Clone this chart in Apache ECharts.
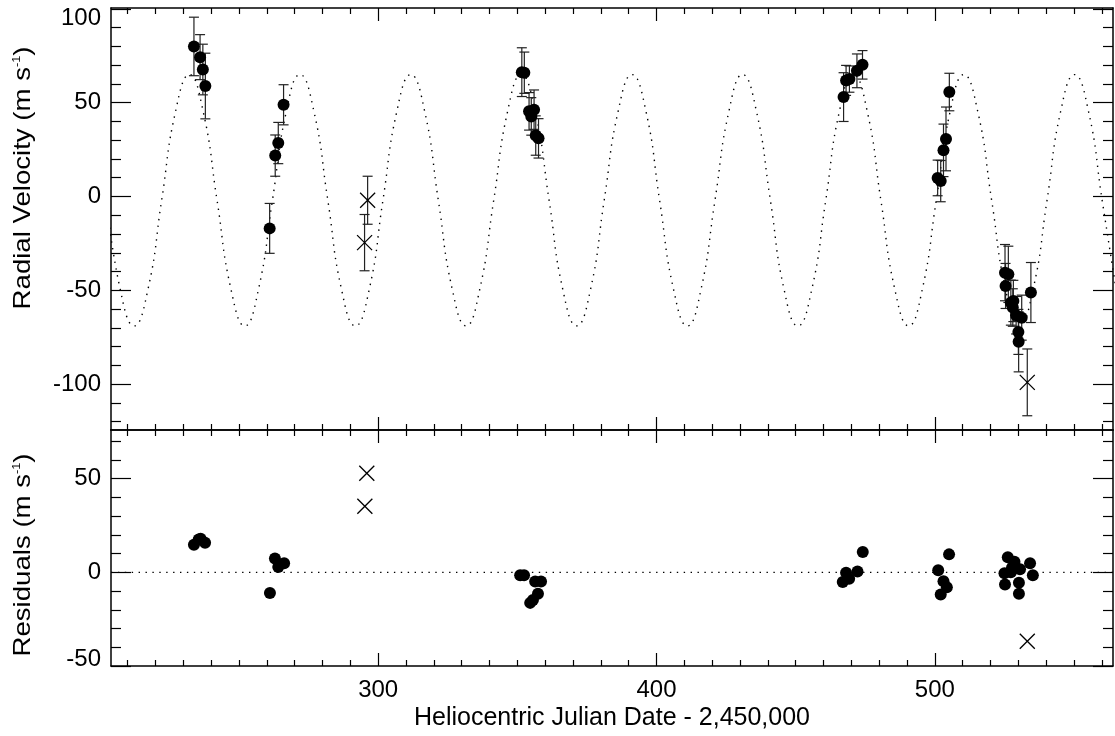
<!DOCTYPE html>
<html>
<head>
<meta charset="utf-8">
<script src="https://cdn.jsdelivr.net/npm/echarts@6/dist/echarts.min.js"></script>
<style>
html,body{margin:0;padding:0;background:#fff;}
#chart{width:1115px;height:736px;}
</style>
</head>
<body>
<div id="chart"></div>
<script>
// ---------- data ----------
// Radial velocities used in the fit (filled circles): day, velocity (m/s), 1-sigma error
const rvDays = [233.8, 236.0, 237.0, 237.9, 261.0, 263.0, 264.1, 266.0,
  351.6, 352.5, 354.2, 355.0, 356.0, 356.6, 357.6,
  467.2, 468.1, 469.3, 472.0, 474.0,
  501.0, 502.1, 503.1, 504.0, 505.2,
  525.2, 526.4, 525.4, 527.3, 528.2, 528.0, 529.2, 531.2, 530.0, 530.1, 534.5];
const rvVals = [80.0, 74.3, 67.7, 58.9, -17.0, 21.8, 28.5, 48.9,
  66.3, 66.0, 45.4, 42.7, 46.3, 32.5, 31.0,
  53.0, 61.9, 62.6, 67.0, 70.2,
  9.9, 8.2, 24.6, 30.7, 55.7,
  -40.6, -41.5, -47.7, -56.6, -55.7, -59.2, -63.3, -64.6, -72.2, -77.5, -51.2];
const rvErrs = [15.6, 12.0, 13.5, 17.5, 13.3, 11.0, 11.0, 10.7,
  13.0, 11.0, 10.0, 10.0, 10.5, 10.5, 10.5,
  13.0, 8.0, 7.0, 9.0, 7.6,
  9.5, 11.0, 14.0, 17.0, 10.0,
  15.0, 15.0, 12.0, 12.0, 11.0, 10.0, 10.0, 12.0, 12.0, 16.0, 16.0];

// Excluded points (crosses)
const exDays = [295.1, 296.2, 533.2];
const exVals = [-24.6, -2.0, -99.1];
const exErrs = [15.0, 12.8, 17.8];

// Residuals (filled circles) and residuals of excluded points (crosses)
const resDays = [233.8, 235.5, 236.2, 237.8, 261.1, 262.9, 264.1, 266.2,
  351.0, 352.4, 354.6, 355.6, 356.4, 357.4, 358.5,
  466.9, 468.1, 469.2, 472.2, 474.1,
  501.2, 502.1, 503.1, 504.3, 505.1,
  525.0, 525.2, 526.2, 527.3, 527.7, 528.6, 528.8, 530.2, 530.2, 530.6, 534.2, 535.2];
const resVals = [14.7, 17.5, 17.9, 15.8, -11.0, 7.4, 2.9, 4.9,
  -1.6, -1.6, -16.3, -14.7, -4.9, -11.4, -4.9,
  -5.1, -0.2, -3.4, 0.4, 10.9,
  1.1, -11.8, -4.7, -8.0, 9.6,
  -0.5, -6.5, 8.0, 0.0, 2.5, 5.6, 3.0, -5.6, -11.4, 1.6, 4.9, -1.6];
const exResDays = [295.2, 295.9, 533.2];
const exResVals = [35.3, 52.9, -36.8];

// Orbit model curve (dotted)
const modelDays = [202.4, 207.3, 212.3, 217.3, 222.2, 227.2, 232.2, 237.1, 242.1, 247.1,
  252.1, 257.0, 262.0, 267.0, 271.9, 276.9, 281.9, 286.8, 291.8, 296.8,
  301.7, 306.7, 311.7, 316.7, 321.6, 326.6, 331.6, 336.5, 341.5, 346.5,
  351.4, 356.4, 361.4, 366.3, 371.3, 376.3, 381.2, 386.2, 391.2, 396.2,
  401.1, 406.1, 411.1, 416.0, 421.0, 426.0, 430.9, 435.9, 440.9, 445.8,
  450.8, 455.8, 460.8, 465.7, 470.7, 475.7, 480.6, 485.6, 490.6, 495.5,
  500.5, 505.5, 510.4, 515.4, 520.4, 525.4, 530.3, 535.3, 540.3, 545.2,
  550.2, 555.2, 560.1, 565.1];
const modelVel = [-2, -49.4, -69, -49.4, -2, 45.4, 65, 45.4, -2, -49.4,
  -69, -49.4, -2, 45.4, 65, 45.4, -2, -49.4, -69, -49.4,
  -2, 45.4, 65, 45.4, -2, -49.4, -69, -49.4, -2, 45.4,
  65, 45.4, -2, -49.4, -69, -49.4, -2, 45.4, 65, 45.4,
  -2, -49.4, -69, -49.4, -2, 45.4, 65, 45.4, -2, -49.4,
  -69, -49.4, -2, 45.4, 65, 45.4, -2, -49.4, -69, -49.4,
  -2, 45.4, 65, 45.4, -2, -49.4, -69, -49.4, -2, 45.4,
  65, 45.4, -2, -49.4];

// Axis ranges and ticks
const xMin = 204, xMax = 564;
const xMajor = [300, 400, 500];
const xMinor = [210, 220, 230, 240, 250, 260, 270, 280, 290, 310, 320, 330, 340, 350, 360, 370, 380, 390,
  410, 420, 430, 440, 450, 460, 470, 480, 490, 510, 520, 530, 540, 550, 560];
const rvMin = -124.5, rvMax = 100.5;
const rvMajor = [-100, -50, 0, 50, 100];
const rvMinor = [-120, -110, -90, -80, -70, -60, -40, -30, -20, -10, 10, 20, 30, 40, 60, 70, 80, 90];
const resMin = -50, resMax = 76;
const resMajor = [-50, 0, 50];
const resMinor = [-40, -30, -20, -10, 10, 20, 30, 40, 60, 70];

// ---------- chart ----------
const FONT = 'Liberation Sans, Arial, Helvetica, sans-serif';
const chart = echarts.init(document.getElementById('chart'), null, {renderer: 'canvas'});

const grids = [
  {left: 111, top: 8, width: 1002, height: 422},
  {left: 111, top: 430, width: 1002, height: 236}
];

function xAxisDef(gi, pos, ticks, len, line, labels) {
  const a = {
    type: 'value', gridIndex: gi, position: pos, min: xMin, max: xMax, offset: 0,
    splitLine: {show: false},
    axisLine: {show: line, onZero: false, lineStyle: {color: '#000', width: 1.5}},
    axisTick: {show: true, inside: true, length: len, customValues: ticks, lineStyle: {color: '#000', width: 1.2}},
    axisLabel: {show: !!labels}
  };
  if (labels) {
    a.axisLabel = {show: true, customValues: xMajor, margin: 12, color: '#000', fontSize: 24, fontFamily: FONT};
    a.name = 'Heliocentric Julian Date - 2,450,000';
    a.nameLocation = 'middle';
    a.nameGap = 40;
    a.nameTextStyle = {color: '#000', fontSize: 25, fontFamily: FONT};
  }
  return a;
}
function yAxisDef(gi, pos, ticks, len, line, mn, mx, labels, rich, fmt) {
  const a = {
    type: 'value', gridIndex: gi, position: pos, min: mn, max: mx, offset: 0,
    splitLine: {show: false},
    axisLine: {show: line, onZero: false, lineStyle: {color: '#000', width: 1.5}},
    axisTick: {show: true, inside: true, length: len, customValues: ticks, lineStyle: {color: '#000', width: 1.2}},
    axisLabel: {show: false}
  };
  if (labels) {
    a.axisLabel = {show: true, customValues: labels, margin: 10, color: '#000', fontSize: 24,
      fontFamily: FONT, formatter: fmt, rich: rich};
  }
  return a;
}

const xAxes = [
  xAxisDef(0, 'bottom', xMajor, 13, true),
  xAxisDef(0, 'bottom', xMinor, 6, false),
  xAxisDef(0, 'top', xMajor, 13, true),
  xAxisDef(0, 'top', xMinor, 6, false),
  xAxisDef(1, 'bottom', xMajor, 13, true, true),
  xAxisDef(1, 'bottom', xMinor, 6, false),
  xAxisDef(1, 'top', xMajor, 13, true),
  xAxisDef(1, 'top', xMinor, 6, false)
];
const richTop = {dn: {fontSize: 24, fontFamily: FONT, color: '#000', padding: [18, 0, 0, 0]}};
const richBot = {up: {fontSize: 24, fontFamily: FONT, color: '#000', padding: [0, 0, 14, 0]}};
const yAxes = [
  yAxisDef(0, 'left', rvMajor, 20, true, rvMin, rvMax, rvMajor, richTop,
    v => (v === 100 ? '{dn|100}' : String(v))),
  yAxisDef(0, 'left', rvMinor, 10, false, rvMin, rvMax),
  yAxisDef(0, 'right', rvMajor, 20, true, rvMin, rvMax),
  yAxisDef(0, 'right', rvMinor, 10, false, rvMin, rvMax),
  yAxisDef(1, 'left', resMajor, 20, true, resMin, resMax, resMajor, richBot,
    v => (v === -50 ? '{up|-50}' : String(v))),
  yAxisDef(1, 'left', resMinor, 10, false, resMin, resMax),
  yAxisDef(1, 'right', resMajor, 20, true, resMin, resMax),
  yAxisDef(1, 'right', resMinor, 10, false, resMin, resMax)
];

function errBar(params, api) {
  const x = api.value(0), y = api.value(1), e = api.value(2);
  const hi = api.coord([x, y + e]);
  const lo = api.coord([x, y - e]);
  const h = 5;
  const st = {stroke: '#222', lineWidth: 1.2};
  return {type: 'group', children: [
    {type: 'line', shape: {x1: hi[0], y1: hi[1], x2: lo[0], y2: lo[1]}, style: st},
    {type: 'line', shape: {x1: hi[0] - h, y1: hi[1], x2: hi[0] + h, y2: hi[1]}, style: st},
    {type: 'line', shape: {x1: lo[0] - h, y1: lo[1], x2: lo[0] + h, y2: lo[1]}, style: st}
  ]};
}
function cross(params, api) {
  const c = api.coord([api.value(0), api.value(1)]);
  const h = 7.5;
  const st = {stroke: '#000', lineWidth: 1.3};
  return {type: 'group', children: [
    {type: 'line', shape: {x1: c[0] - h, y1: c[1] - h, x2: c[0] + h, y2: c[1] + h}, style: st},
    {type: 'line', shape: {x1: c[0] - h, y1: c[1] + h, x2: c[0] + h, y2: c[1] - h}, style: st}
  ]};
}

const rvData = rvDays.map((d, i) => [d, rvVals[i], rvErrs[i]]);
const exData = exDays.map((d, i) => [d, exVals[i], exErrs[i]]);
const resData = resDays.map((d, i) => [d, resVals[i]]);
const exResData = exResDays.map((d, i) => [d, exResVals[i]]);
const modelData = modelDays.map((d, i) => [d, modelVel[i]]);

const option = {
  backgroundColor: '#fff',
  animation: false,
  grid: grids,
  xAxis: xAxes,
  yAxis: yAxes,
  graphic: [
    {type: 'text', x: 23, y: 178, rotation: Math.PI / 2, scaleX: 1.15,
      style: {text: '{a|Radial Velocity (m s}{s|-1}{a|)}', align: 'center', verticalAlign: 'middle',
        rich: {a: {fontSize: 24, fontFamily: FONT, fill: '#000'},
               s: {fontSize: 11, fontFamily: FONT, fill: '#000', verticalAlign: 'top'}}}},
    {type: 'text', x: 23, y: 555, rotation: Math.PI / 2, scaleX: 1.15,
      style: {text: '{a|Residuals (m s}{s|-1}{a|)}', align: 'center', verticalAlign: 'middle',
        rich: {a: {fontSize: 24, fontFamily: FONT, fill: '#000'},
               s: {fontSize: 11, fontFamily: FONT, fill: '#000', verticalAlign: 'top'}}}}
  ],
  series: [
    {type: 'line', xAxisIndex: 0, yAxisIndex: 0, data: modelData, smooth: true, showSymbol: false,
      clip: true, silent: true, z: 1,
      lineStyle: {color: '#000', width: 1.4, type: [1.4, 5.5]}},
    {type: 'custom', xAxisIndex: 0, yAxisIndex: 0, data: rvData, renderItem: errBar,
      encode: {x: 0, y: 1}, z: 2},
    {type: 'custom', xAxisIndex: 0, yAxisIndex: 0, data: exData, renderItem: errBar,
      encode: {x: 0, y: 1}, z: 2},
    {type: 'scatter', xAxisIndex: 0, yAxisIndex: 0, data: rvData.map(p => [p[0], p[1]]),
      symbol: 'circle', symbolSize: 12, itemStyle: {color: '#000', opacity: 1}, z: 3},
    {type: 'custom', xAxisIndex: 0, yAxisIndex: 0, data: exData.map(p => [p[0], p[1]]),
      renderItem: cross, encode: {x: 0, y: 1}, z: 3},
    {type: 'line', xAxisIndex: 4, yAxisIndex: 4, data: [[xMin, 0], [xMax, 0]], showSymbol: false,
      silent: true, z: 1, lineStyle: {color: '#000', width: 1.4, type: [1.4, 5.5]}},
    {type: 'scatter', xAxisIndex: 4, yAxisIndex: 4, data: resData,
      symbol: 'circle', symbolSize: 12, itemStyle: {color: '#000', opacity: 1}, z: 3},
    {type: 'custom', xAxisIndex: 4, yAxisIndex: 4, data: exResData,
      renderItem: cross, encode: {x: 0, y: 1}, z: 3}
  ]
};
chart.setOption(option);
</script>
</body>
</html>
